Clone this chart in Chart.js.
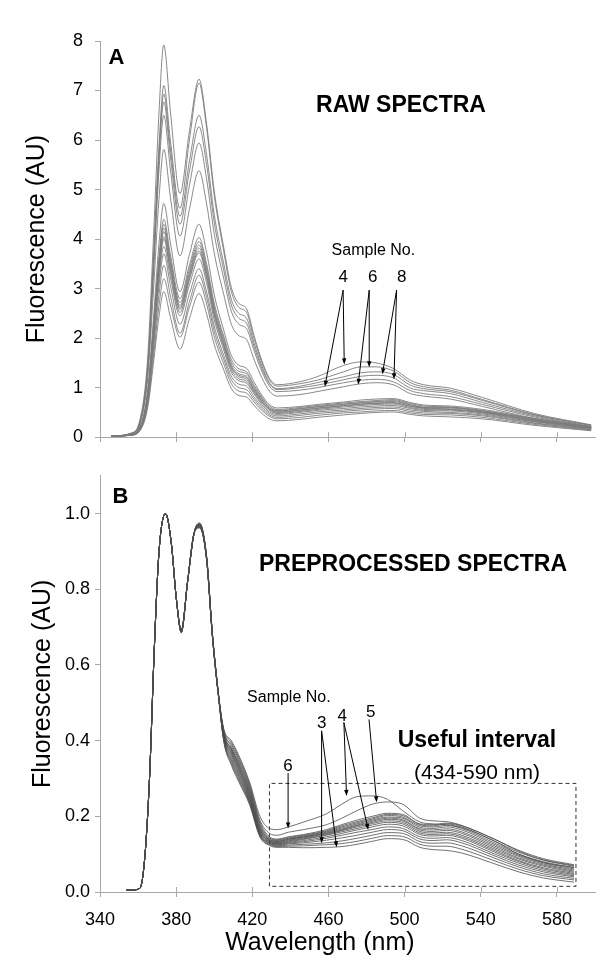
<!DOCTYPE html>
<html><head><meta charset="utf-8">
<script src="https://cdn.jsdelivr.net/npm/chart.js@4.4.1/dist/chart.umd.min.js"></script>
<style>
html,body{margin:0;padding:0;background:#fff;}
#wrap{position:relative;width:600px;height:974px;background:#fff;}
#cA{position:absolute;left:0;top:0;}
#cB{position:absolute;left:0;top:460px;}
</style></head><body>
<div id="wrap"><canvas id="cA" width="600" height="460"></canvas><canvas id="cB" width="600" height="514"></canvas></div>
<script>
// ---------- DATA ----------
const xTickValues = [340, 380, 420, 460, 500, 540, 580];
const yTicksA = [0, 1, 2, 3, 4, 5, 6, 7, 8];
const yTicksB = [0, 0.2, 0.4, 0.6, 0.8, 1.0];

// Panel A: raw spectra (wavelength nm)
const wavelengthsA = [346,356,361,365,368,371,373.5,377,382,387,392,396,400,405,409,413,417,421,425,429,433,445,454,468,477,485,494,503,510,524,541,568,598];
const rawA01 = [0.02,0.08,0.36,1.58,3.96,6.57,7.92,6.57,4.92,6.19,7.23,6.32,4.97,3.83,3.02,2.70,2.59,2.04,1.55,1.19,1.06,1.12,1.22,1.45,1.52,1.50,1.39,1.15,1.06,0.99,0.80,0.48,0.25];
const rawA02 = [0.02,0.07,0.32,1.42,3.55,5.89,7.10,5.98,4.62,6.01,7.15,6.24,4.89,3.75,2.94,2.62,2.52,1.98,1.51,1.16,1.03,1.08,1.15,1.32,1.42,1.42,1.34,1.10,1.02,0.95,0.76,0.46,0.24];
const rawA03 = [0.02,0.07,0.31,1.39,3.47,5.75,6.93,5.82,4.46,5.58,6.50,5.70,4.50,3.50,2.78,2.50,2.40,1.89,1.44,1.10,0.98,1.03,1.10,1.22,1.30,1.32,1.27,1.05,0.98,0.92,0.74,0.45,0.24];
const rawA04 = [0.02,0.07,0.30,1.35,3.39,5.62,6.77,5.66,4.30,5.38,6.27,5.50,4.34,3.37,2.67,2.40,2.30,1.82,1.39,1.08,0.96,1.00,1.05,1.16,1.23,1.25,1.20,0.99,0.94,0.88,0.70,0.43,0.22];
const rawA05 = [0.02,0.06,0.29,1.30,3.25,5.40,6.50,5.40,4.06,5.09,5.94,5.21,4.11,3.20,2.54,2.28,2.19,1.74,1.33,1.03,0.92,0.95,1.00,1.10,1.15,1.17,1.12,0.94,0.88,0.82,0.66,0.41,0.21];
const rawA06 = [0.02,0.06,0.26,1.16,2.91,4.82,5.81,4.84,3.66,4.61,5.38,4.71,3.72,2.88,2.28,2.05,1.97,1.56,1.20,0.93,0.83,0.86,0.92,1.02,1.08,1.10,1.06,0.88,0.83,0.77,0.62,0.38,0.20];
const rawA07 = [0.02,0.05,0.21,0.94,2.36,3.92,4.72,3.92,2.94,3.69,4.30,3.73,2.88,2.16,1.65,1.45,1.39,1.11,0.85,0.66,0.59,0.62,0.66,0.71,0.75,0.77,0.78,0.70,0.65,0.63,0.56,0.38,0.21];
const rawA08 = [0.02,0.05,0.20,0.88,2.20,3.65,4.40,3.68,2.80,3.48,4.03,3.50,2.71,2.04,1.57,1.38,1.32,1.05,0.81,0.63,0.56,0.60,0.64,0.69,0.72,0.74,0.76,0.68,0.63,0.61,0.54,0.37,0.20];
const rawA09 = [0.02,0.05,0.19,0.86,2.15,3.57,4.30,3.59,2.72,3.40,3.95,3.43,2.64,1.99,1.51,1.33,1.28,1.01,0.78,0.60,0.54,0.58,0.62,0.67,0.70,0.72,0.74,0.66,0.61,0.60,0.53,0.36,0.20];
const rawA10 = [0.02,0.05,0.19,0.84,2.11,3.50,4.22,3.52,2.66,3.33,3.88,3.36,2.58,1.93,1.46,1.28,1.23,0.98,0.76,0.59,0.53,0.57,0.61,0.66,0.69,0.71,0.72,0.65,0.60,0.59,0.52,0.35,0.19];
const rawA11 = [0.02,0.05,0.19,0.83,2.08,3.44,4.15,3.46,2.62,3.28,3.82,3.31,2.54,1.89,1.43,1.25,1.20,0.95,0.73,0.57,0.51,0.55,0.59,0.64,0.67,0.69,0.70,0.63,0.59,0.57,0.51,0.34,0.19];
const rawA12 = [0.02,0.05,0.18,0.81,2.03,3.36,4.05,3.39,2.58,3.23,3.76,3.25,2.49,1.86,1.40,1.22,1.17,0.93,0.72,0.56,0.50,0.54,0.58,0.63,0.66,0.68,0.69,0.62,0.58,0.56,0.50,0.33,0.18];
const rawA13 = [0.02,0.05,0.18,0.80,2.00,3.32,4.00,3.33,2.52,3.18,3.72,3.21,2.45,1.82,1.36,1.18,1.13,0.90,0.69,0.54,0.48,0.52,0.56,0.61,0.64,0.66,0.67,0.60,0.56,0.55,0.49,0.32,0.18];
const rawA14 = [0.02,0.04,0.17,0.77,1.93,3.20,3.85,3.22,2.45,3.08,3.60,3.11,2.37,1.76,1.31,1.14,1.09,0.87,0.66,0.51,0.46,0.50,0.54,0.58,0.61,0.63,0.64,0.58,0.54,0.53,0.47,0.31,0.17];
const rawA15 = [0.02,0.04,0.17,0.74,1.85,3.07,3.70,3.06,2.28,2.90,3.40,2.93,2.24,1.65,1.23,1.07,1.03,0.81,0.62,0.48,0.43,0.47,0.51,0.55,0.58,0.60,0.61,0.55,0.52,0.50,0.45,0.29,0.16];
const rawA16 = [0.02,0.04,0.16,0.69,1.74,2.88,3.47,2.85,2.10,2.74,3.27,2.82,2.14,1.57,1.16,1.00,0.96,0.76,0.58,0.45,0.40,0.44,0.48,0.52,0.55,0.57,0.58,0.52,0.49,0.48,0.43,0.28,0.15];
const rawA17 = [0.02,0.04,0.14,0.64,1.60,2.66,3.20,2.67,2.02,2.63,3.13,2.69,2.03,1.48,1.08,0.93,0.89,0.71,0.54,0.42,0.37,0.40,0.44,0.49,0.51,0.53,0.54,0.49,0.46,0.45,0.40,0.26,0.14];
const rawA18 = [0.02,0.04,0.13,0.59,1.47,2.44,2.94,2.42,1.78,2.40,2.90,2.49,1.87,1.36,0.98,0.84,0.81,0.64,0.48,0.37,0.33,0.36,0.40,0.45,0.48,0.50,0.51,0.46,0.43,0.41,0.37,0.24,0.13];

// Panel B: preprocessed spectra
const wavelengthsB = [354,358,361,363.5,366,368.5,371,374.4,377.5,380,382.7,386,389.5,392.3,396,399,402,405,409,413,418.6,424,429,433,439,447,459,467,475,483,491,499,508,515,522,530,547,560,573,589];
const preB01 = [0.005,0.006,0.010,0.09,0.30,0.64,0.90,1.00,0.92,0.78,0.688,0.82,0.95,0.962,0.880,0.680,0.530,0.430,0.400,0.360,0.290,0.200,0.168,0.165,0.172,0.185,0.207,0.232,0.252,0.254,0.245,0.215,0.185,0.180,0.178,0.170,0.135,0.100,0.078,0.065];
const preB02 = [0.005,0.006,0.010,0.09,0.30,0.64,0.90,1.00,0.92,0.78,0.690,0.82,0.95,0.965,0.882,0.682,0.532,0.430,0.395,0.355,0.285,0.190,0.155,0.150,0.158,0.165,0.178,0.195,0.215,0.232,0.238,0.232,0.195,0.188,0.186,0.176,0.140,0.108,0.085,0.070];
const preB03 = [0.005,0.006,0.010,0.09,0.30,0.64,0.90,1.00,0.92,0.78,0.686,0.82,0.95,0.970,0.885,0.684,0.534,0.425,0.390,0.350,0.280,0.185,0.146,0.140,0.146,0.152,0.165,0.178,0.190,0.200,0.208,0.205,0.180,0.178,0.182,0.175,0.140,0.110,0.088,0.072];
const preB04 = [0.005,0.006,0.010,0.09,0.30,0.64,0.90,1.00,0.92,0.78,0.692,0.82,0.95,0.968,0.878,0.678,0.528,0.425,0.385,0.345,0.275,0.180,0.143,0.138,0.144,0.150,0.162,0.175,0.186,0.196,0.205,0.202,0.178,0.175,0.180,0.172,0.135,0.105,0.084,0.068];
const preB05 = [0.005,0.006,0.010,0.09,0.30,0.64,0.90,1.00,0.92,0.78,0.688,0.82,0.95,0.972,0.884,0.683,0.531,0.420,0.380,0.340,0.270,0.175,0.141,0.136,0.142,0.148,0.160,0.172,0.183,0.193,0.202,0.198,0.175,0.172,0.176,0.168,0.130,0.100,0.080,0.064];
const preB06 = [0.005,0.006,0.010,0.09,0.30,0.64,0.90,1.00,0.92,0.78,0.685,0.82,0.95,0.966,0.879,0.679,0.529,0.420,0.378,0.336,0.266,0.172,0.139,0.134,0.140,0.146,0.158,0.169,0.180,0.190,0.198,0.195,0.171,0.168,0.172,0.164,0.126,0.097,0.077,0.061];
const preB07 = [0.005,0.006,0.010,0.09,0.30,0.64,0.90,1.00,0.92,0.78,0.690,0.82,0.95,0.975,0.886,0.685,0.533,0.418,0.375,0.332,0.262,0.168,0.138,0.133,0.139,0.145,0.156,0.166,0.177,0.187,0.195,0.191,0.167,0.164,0.167,0.159,0.122,0.094,0.074,0.058];
const preB08 = [0.005,0.006,0.010,0.09,0.30,0.64,0.90,1.00,0.92,0.78,0.687,0.82,0.95,0.963,0.877,0.677,0.527,0.416,0.372,0.328,0.258,0.165,0.136,0.131,0.137,0.143,0.154,0.164,0.175,0.184,0.192,0.188,0.164,0.160,0.163,0.155,0.118,0.090,0.071,0.055];
const preB09 = [0.005,0.006,0.010,0.09,0.30,0.64,0.90,1.00,0.92,0.78,0.691,0.82,0.95,0.969,0.881,0.681,0.530,0.414,0.368,0.324,0.254,0.162,0.135,0.130,0.135,0.141,0.152,0.162,0.172,0.181,0.188,0.184,0.160,0.156,0.158,0.150,0.114,0.087,0.068,0.052];
const preB10 = [0.005,0.006,0.010,0.09,0.30,0.64,0.90,1.00,0.92,0.78,0.689,0.82,0.95,0.971,0.883,0.682,0.531,0.412,0.365,0.320,0.250,0.160,0.133,0.128,0.133,0.139,0.150,0.159,0.168,0.177,0.184,0.180,0.156,0.152,0.154,0.146,0.110,0.083,0.064,0.049];
const preB11 = [0.005,0.006,0.010,0.09,0.30,0.64,0.90,1.00,0.92,0.78,0.686,0.82,0.95,0.967,0.880,0.680,0.529,0.410,0.360,0.315,0.247,0.157,0.132,0.127,0.131,0.136,0.146,0.155,0.164,0.172,0.179,0.175,0.152,0.148,0.150,0.142,0.106,0.080,0.061,0.046];
const preB12 = [0.005,0.006,0.010,0.09,0.30,0.64,0.90,1.00,0.92,0.78,0.693,0.82,0.95,0.973,0.887,0.686,0.534,0.408,0.355,0.310,0.243,0.154,0.130,0.125,0.129,0.133,0.142,0.150,0.158,0.165,0.172,0.168,0.146,0.142,0.144,0.136,0.101,0.076,0.057,0.043];
const preB13 = [0.005,0.006,0.010,0.09,0.30,0.64,0.90,1.00,0.92,0.78,0.688,0.82,0.95,0.964,0.878,0.678,0.528,0.405,0.350,0.305,0.240,0.152,0.129,0.124,0.127,0.130,0.137,0.143,0.150,0.158,0.165,0.162,0.140,0.136,0.138,0.130,0.096,0.071,0.053,0.040];
const preB14 = [0.005,0.006,0.010,0.09,0.30,0.64,0.90,1.00,0.92,0.78,0.690,0.82,0.95,0.970,0.882,0.681,0.530,0.402,0.345,0.300,0.237,0.150,0.127,0.122,0.124,0.126,0.130,0.135,0.142,0.150,0.157,0.155,0.133,0.129,0.130,0.122,0.090,0.066,0.048,0.036];
const preB15 = [0.005,0.006,0.010,0.09,0.30,0.64,0.90,1.00,0.92,0.78,0.687,0.82,0.95,0.968,0.880,0.680,0.529,0.400,0.340,0.295,0.234,0.148,0.125,0.120,0.121,0.122,0.125,0.128,0.134,0.142,0.149,0.147,0.126,0.121,0.121,0.113,0.083,0.060,0.043,0.032];
const preB16 = [0.005,0.006,0.010,0.09,0.30,0.64,0.90,1.00,0.92,0.78,0.692,0.82,0.95,0.975,0.885,0.684,0.532,0.398,0.335,0.290,0.230,0.145,0.123,0.118,0.118,0.117,0.118,0.120,0.126,0.134,0.141,0.139,0.118,0.112,0.110,0.103,0.075,0.053,0.037,0.026];

// Useful interval box (nm, AU)
const usefulBoxX = [429, 429, 590, 590, 429];
const usefulBoxY = [0.015, 0.287, 0.287, 0.015, 0.015];

// ---------- CHART ----------
const FONT = "'Liberation Sans', Arial, Helvetica, sans-serif";
Chart.defaults.font.family = FONT;
Chart.defaults.color = '#000';
const axisColor = '#a8a8a8';

const rawSeries = [rawA01,rawA02,rawA03,rawA04,rawA05,rawA06,rawA07,rawA08,rawA09,rawA10,rawA11,rawA12,rawA13,rawA14,rawA15,rawA16,rawA17,rawA18];
const preSeries = [preB01,preB02,preB03,preB04,preB05,preB06,preB07,preB08,preB09,preB10,preB11,preB12,preB13,preB14,preB15,preB16];

function lineSet(xs, ys, color, width) {
  return {
    data: xs.map((x, i) => ({x: x, y: ys[i]})),
    borderColor: color, borderWidth: width, pointRadius: 0,
    cubicInterpolationMode: 'monotone', fill: false
  };
}

function overlay(cfg) {
  return {
    id: 'overlay',
    afterDraw(chart) {
      const ctx = chart.ctx, xs = chart.scales.x, ys = chart.scales.y, area = chart.chartArea;
      ctx.save();
      // upper half of crossing x ticks
      ctx.strokeStyle = axisColor; ctx.lineWidth = 1;
      xs.ticks.forEach(t => {
        if (t.value === xs.min) return;
        const px = Math.round(xs.getPixelForValue(t.value)) + 0.5;
        ctx.beginPath(); ctx.moveTo(px, area.bottom); ctx.lineTo(px, area.bottom - 5); ctx.stroke();
      });
      // arrows
      ctx.strokeStyle = '#000'; ctx.fillStyle = '#000'; ctx.lineWidth = 1;
      cfg.arrows.forEach(a => {
        const x0 = xs.getPixelForValue(a[0]), y0 = ys.getPixelForValue(a[1]);
        const x1 = xs.getPixelForValue(a[2]), y1 = ys.getPixelForValue(a[3]);
        const ang = Math.atan2(y1 - y0, x1 - x0), L = 6, W = 2.2;
        ctx.beginPath(); ctx.moveTo(x0, y0);
        ctx.lineTo(x1 - Math.cos(ang) * L * 0.7, y1 - Math.sin(ang) * L * 0.7); ctx.stroke();
        ctx.beginPath(); ctx.moveTo(x1, y1);
        ctx.lineTo(x1 - L * Math.cos(ang) + W * Math.sin(ang), y1 - L * Math.sin(ang) - W * Math.cos(ang));
        ctx.lineTo(x1 - L * Math.cos(ang) - W * Math.sin(ang), y1 - L * Math.sin(ang) + W * Math.cos(ang));
        ctx.closePath(); ctx.fill();
      });
      // texts
      ctx.textAlign = 'center'; ctx.textBaseline = 'middle';
      cfg.texts.forEach(t => {
        ctx.font = t.font;
        ctx.fillText(t.text, xs.getPixelForValue(t.x), ys.getPixelForValue(t.y));
      });
      if (cfg.xTitle) {
        ctx.font = '25px ' + FONT; ctx.textBaseline = 'alphabetic';
        ctx.fillText(cfg.xTitle.text, xs.getPixelForValue(cfg.xTitle.x), area.bottom + cfg.xTitle.dy);
      }
      ctx.restore();
    }
  };
}

function scalesFor(opts) {
  return {
    x: {
      type: 'linear', min: 340, max: 600, bounds: 'data',
      afterBuildTicks: s => { s.ticks = xTickValues.map(v => ({value: v})); },
      afterFit: s => { s.height = opts.xHeight; },
      grid: {drawOnChartArea: false, drawTicks: true, tickLength: 5, color: axisColor},
      border: {display: true, color: axisColor, width: 1},
      ticks: {display: opts.showX, autoSkip: false, maxRotation: 0, padding: 12,
        font: {size: 18}, color: '#000', callback: v => String(v)}
    },
    y: {
      type: 'linear', min: opts.ymin, max: opts.ymax, bounds: 'data',
      afterBuildTicks: s => { s.ticks = opts.yTicks.map(v => ({value: v})); },
      afterFit: s => { s.width = 100; },
      grid: {drawOnChartArea: false, drawTicks: true, tickLength: 5, color: axisColor},
      border: {display: true, color: axisColor, width: 1},
      title: {display: true, text: 'Fluorescence (AU)', font: {size: 25}, color: '#000',
        padding: {top: opts.titlePad, bottom: 0}},
      ticks: {padding: opts.yPad, font: {size: 18}, color: '#000', callback: opts.yFmt}
    }
  };
}

// Panel A
new Chart(document.getElementById('cA'), {
  type: 'line',
  data: {datasets: rawSeries.map(s => lineSet(wavelengthsA, s, '#7c7c7c', 0.9))},
  options: {
    responsive: false, animation: false, devicePixelRatio: 1,
    layout: {padding: {top: 41, right: 5, bottom: 0, left: 0}},
    plugins: {legend: {display: false}, tooltip: {enabled: false}},
    scales: scalesFor({xHeight: 15, showX: false, ymin: 0, ymax: 8, yTicks: yTicksA,
      titlePad: 22, yPad: 12, yFmt: v => String(v)})
  },
  plugins: [overlay({
    texts: [
      {text: 'A', x: 348.6, y: 7.66, font: 'bold 22px ' + FONT},
      {text: 'RAW SPECTRA', x: 498.1, y: 6.69, font: 'bold 23px ' + FONT},
      {text: 'Sample No.', x: 483.6, y: 3.76, font: '16px ' + FONT},
      {text: '4', x: 467.7, y: 3.23, font: '17px ' + FONT},
      {text: '6', x: 483.2, y: 3.23, font: '17px ' + FONT},
      {text: '8', x: 498.5, y: 3.23, font: '17px ' + FONT}
    ],
    arrows: [
      [467.7, 2.97, 458.1, 1.02], [467.7, 2.97, 468.3, 1.47],
      [481.4, 2.97, 475.6, 1.06], [481.4, 2.97, 481.4, 1.41],
      [495.8, 2.97, 488.3, 1.27], [495.8, 2.97, 494.4, 1.17]
    ]
  })]
});

// Panel B
const boxSet = {
  data: usefulBoxX.map((x, i) => ({x: x, y: usefulBoxY[i]})),
  borderColor: '#333', borderWidth: 1, borderDash: [4, 3], pointRadius: 0, tension: 0, fill: false
};
new Chart(document.getElementById('cB'), {
  type: 'line',
  data: {datasets: preSeries.map(s => lineSet(wavelengthsB, s, '#4d4d4d', 0.8)).concat([boxSet])},
  options: {
    responsive: false, animation: false, devicePixelRatio: 1,
    layout: {padding: {top: 5, right: 5, bottom: 0, left: 0}},
    plugins: {legend: {display: false}, tooltip: {enabled: false}},
    scales: scalesFor({xHeight: 82, showX: true, ymin: 0, ymax: 1.1, yTicks: yTicksB,
      titlePad: 28, yPad: 5, yFmt: v => Number(v).toFixed(1)})
  },
  plugins: [overlay({
    texts: [
      {text: 'B', x: 350.7, y: 1.045, font: 'bold 22px ' + FONT},
      {text: 'PREPROCESSED SPECTRA', x: 504.4, y: 0.864, font: 'bold 23px ' + FONT},
      {text: 'Sample No.', x: 439.2, y: 0.513, font: '16px ' + FONT},
      {text: '3', x: 456.4, y: 0.445, font: '17px ' + FONT},
      {text: '4', x: 467.2, y: 0.465, font: '17px ' + FONT},
      {text: '5', x: 482.2, y: 0.476, font: '17px ' + FONT},
      {text: '6', x: 438.8, y: 0.333, font: '17px ' + FONT},
      {text: 'Useful interval', x: 538, y: 0.40, font: 'bold 23px ' + FONT},
      {text: '(434-590 nm)', x: 538, y: 0.315, font: '21px ' + FONT}
    ],
    arrows: [
      [438.8, 0.314, 438.8, 0.168],
      [456.4, 0.426, 456.4, 0.129], [456.4, 0.426, 464.3, 0.118],
      [468.1, 0.448, 469.5, 0.254], [468.1, 0.448, 480.9, 0.164],
      [481.3, 0.456, 485.3, 0.237]
    ],
    xTitle: {text: 'Wavelength (nm)', x: 455.5, dy: 58}
  })]
});
</script></body></html>
